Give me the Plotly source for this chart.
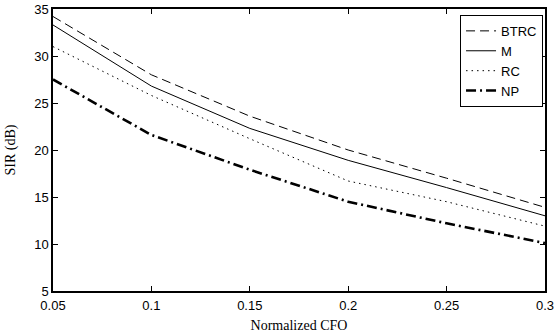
import plotly.graph_objects as go

cfo = [0.05, 0.1, 0.15, 0.2, 0.25, 0.3]
btrc = [34.2, 28.0, 23.6, 20.0, 17.0, 13.9]
m = [33.3, 26.8, 22.3, 18.9, 16.0, 13.0]
rc = [31.0, 25.8, 21.2, 16.7, 14.5, 11.9]
np_ = [27.5, 21.6, 17.9, 14.5, 12.2, 10.1]

series = [
    ("BTRC", btrc, "9px,5px", 1.0),
    ("M", m, "solid", 1.0),
    ("RC", rc, "1.5px,4px", 1.0),
    ("NP", np_, "10px,4px,2px,4px", 2.6),
]

fig = go.Figure()
for name, ys, dash, w in series:
    fig.add_trace(go.Scatter(x=cfo, y=ys, mode="lines", name=name,
                             line=dict(color="black", dash=dash, width=w)))

axis_common = dict(showline=True, linecolor="black", linewidth=1.5, mirror="ticks",
                   ticks="inside", ticklen=5, tickcolor="black", showgrid=False,
                   zeroline=False, automargin=False,
                   tickfont=dict(family="Arial", size=13, color="black"))

fig.update_layout(
    width=557, height=333,
    margin=dict(l=53, r=12, t=9, b=42),
    plot_bgcolor="white", paper_bgcolor="white",
    xaxis=dict(range=[0.05, 0.3], tickvals=[0.05, 0.1, 0.15, 0.2, 0.25, 0.3],
               ticktext=["0.05", "0.1", "0.15", "0.2", "0.25", "0.3"],
               ticklabelstandoff=2,
               title=dict(text="Normalized CFO", font=dict(family="Liberation Serif", size=14, color="black")),
               **axis_common),
    yaxis=dict(range=[5, 35], tickvals=[5, 10, 15, 20, 25, 30, 35],
               title=dict(text="SIR (dB)", font=dict(family="Liberation Serif", size=14, color="black")),
               **axis_common),
    legend=dict(x=0.996, y=0.979, xanchor="right", yanchor="top",
                bordercolor="black", borderwidth=1, bgcolor="white",
                font=dict(family="Arial", size=13, color="black"),
                tracegroupgap=0, entrywidth=60, entrywidthmode="pixels"),
    showlegend=True,
)

fig.write_html("out.html", config={"displayModeBar": False},
               post_script="document.body.style.margin='0';document.body.style.overflow='hidden';")
